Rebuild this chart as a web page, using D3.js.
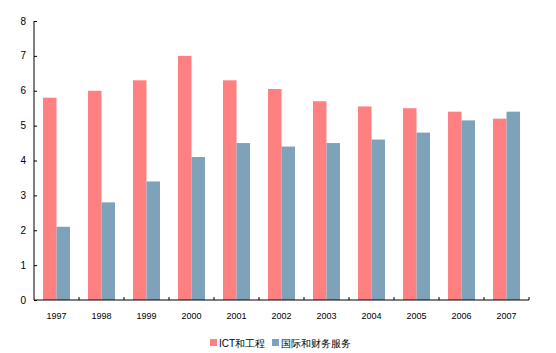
<!DOCTYPE html>
<html><head><meta charset="utf-8">
<script src="https://cdn.jsdelivr.net/npm/d3@7/dist/d3.min.js"></script>
<style>body{margin:0;background:#fff}svg{display:block}text{font-family:Arial,"Liberation Sans",sans-serif}</style>
</head><body><svg id="c" width="556" height="353"></svg>
<script>
const years = ["1997","1998","1999","2000","2001","2002","2003","2004","2005","2006","2007"];
const ictValues = [5.8, 6.0, 6.3, 7.0, 6.3, 6.05, 5.7, 5.55, 5.5, 5.4, 5.2];
const finValues = [2.1, 2.8, 3.4, 4.1, 4.5, 4.4, 4.5, 4.6, 4.8, 5.15, 5.4];
const seriesNames = ["ICT和工程", "国际和财务服务"];
const yTicks = [0,1,2,3,4,5,6,7,8];
const colors = ["#FF8080", "#7FA2BB"];

(function(){
const svg = d3.select("#c");
const mLeft = 34, mRight = 529, mTop = 21, mBottom = 300;
const x = d3.scaleBand().domain(years).range([mLeft, mRight]).paddingInner(0).paddingOuter(0);
const y = d3.scaleLinear().domain([0, 8]).range([mBottom, mTop]);
const barW = 13.5;
const series = [ictValues, finValues];

series.forEach((vals, si) => {
  svg.append("g").selectAll("rect").data(years).join("rect")
    .attr("x", d => x(d) + x.bandwidth()/2 - barW + si*barW)
    .attr("y", (d,i) => y(vals[i]))
    .attr("width", barW)
    .attr("height", (d,i) => y(0) - y(vals[i]))
    .attr("fill", colors[si]);
});

// Y axis
const ya = svg.append("g").attr("transform", `translate(${mLeft},0)`)
  .call(d3.axisRight(y).tickValues(yTicks).tickSize(3).tickFormat(""));
ya.select(".domain").remove();
svg.append("line").attr("x1", mLeft).attr("x2", mLeft).attr("y1", mTop).attr("y2", mBottom).attr("stroke", "#000");
svg.append("g").selectAll("text").data(yTicks).join("text")
  .attr("x", 26).attr("y", d => y(d)).attr("dy", "0.35em")
  .attr("text-anchor", "end").attr("font-size", 10).attr("fill", "#000").text(d => d);

// X axis
svg.append("line").attr("x1", mLeft).attr("x2", mRight).attr("y1", mBottom).attr("y2", mBottom).attr("stroke", "#000");
const bounds = years.slice(1).map(d => x(d)).concat([mRight]);
svg.append("g").selectAll("line").data(bounds).join("line")
  .attr("x1", d => d).attr("x2", d => d).attr("y1", mBottom).attr("y2", mBottom - 3).attr("stroke", "#000");
svg.append("g").selectAll("text").data(years).join("text")
  .attr("x", d => x(d) + x.bandwidth()/2).attr("y", 316).attr("dy", "0.35em")
  .attr("text-anchor", "middle").attr("font-size", 9).attr("fill", "#000").text(d => d);

// Legend
const lg = svg.append("g").attr("transform", "translate(210,343)");
const lx = [0, 62];
seriesNames.forEach((n, i) => {
  lg.append("rect").attr("x", lx[i]).attr("y", -4).attr("width", 7).attr("height", 7).attr("fill", colors[i]);
  lg.append("text").attr("x", lx[i] + 9).attr("y", 0).attr("dy", "0.35em")
    .attr("font-size", 10).attr("font-family", "'Noto Sans CJK SC', sans-serif").attr("fill", "#000").text(n);
});
})();
</script></body></html>
